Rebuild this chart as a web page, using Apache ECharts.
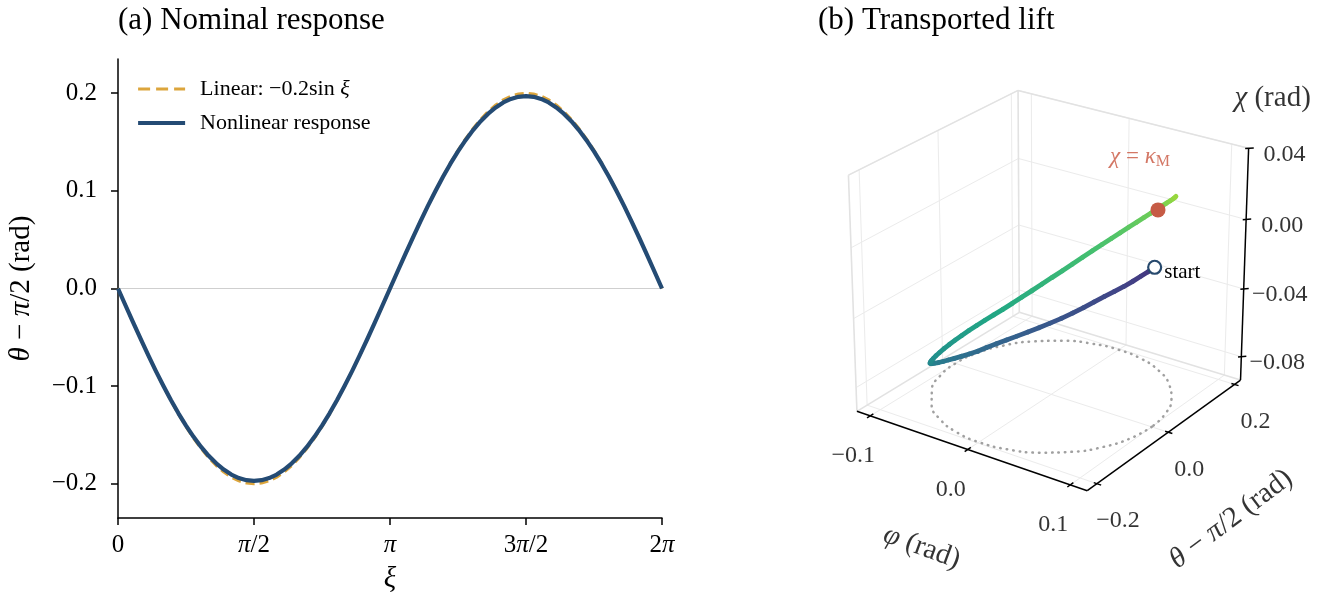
<!DOCTYPE html>
<html>
<head>
<meta charset="utf-8">
<title>Nominal response and transported lift</title>
<script src="https://cdn.jsdelivr.net/npm/echarts@6.0.0/dist/echarts.min.js"></script>
</head>
<body style="margin:0;background:#fff">
<div id="chart" style="width:1319px;height:608px"></div>
<script>
// ---- panel (a): response over one period, read every 5 deg of xi
var xiDeg = [0, 5, 10, 15, 20, 25, 30, 35, 40, 45, 50, 55, 60, 65, 70, 75, 80, 85, 90,
             95, 100, 105, 110, 115, 120, 125, 130, 135, 140, 145, 150, 155, 160, 165, 170, 175, 180,
             185, 190, 195, 200, 205, 210, 215, 220, 225, 230, 235, 240, 245, 250, 255, 260, 265, 270,
             275, 280, 285, 290, 295, 300, 305, 310, 315, 320, 325, 330, 335, 340, 345, 350, 355, 360];
var linearResp = [
  0, -0.0174, -0.0347, -0.0518, -0.0684, -0.0845, -0.1, -0.1147, -0.1286, -0.1414, -0.1532, -0.1638, -0.1732, -0.1813, -0.1879, -0.1932, -0.197, -0.1992, -0.2,
  -0.1992, -0.197, -0.1932, -0.1879, -0.1813, -0.1732, -0.1638, -0.1532, -0.1414, -0.1286, -0.1147, -0.1, -0.0845, -0.0684, -0.0518, -0.0347, -0.0174, 0,
  0.0174, 0.0347, 0.0518, 0.0684, 0.0845, 0.1, 0.1147, 0.1286, 0.1414, 0.1532, 0.1638, 0.1732, 0.1813, 0.1879, 0.1932, 0.197, 0.1992, 0.2,
  0.1992, 0.197, 0.1932, 0.1879, 0.1813, 0.1732, 0.1638, 0.1532, 0.1414, 0.1286, 0.1147, 0.1, 0.0845, 0.0684, 0.0518, 0.0347, 0.0174, 0];
var nonlinearResp = [
  0, -0.0174, -0.0347, -0.0517, -0.0683, -0.0843, -0.0996, -0.1141, -0.1278, -0.1404, -0.1519, -0.1622, -0.1713, -0.179, -0.1854, -0.1905, -0.1941, -0.1963, -0.197,
  -0.1963, -0.1941, -0.1905, -0.1854, -0.179, -0.1713, -0.1622, -0.1519, -0.1404, -0.1278, -0.1141, -0.0996, -0.0843, -0.0683, -0.0517, -0.0347, -0.0174, 0,
  0.0174, 0.0347, 0.0517, 0.0683, 0.0843, 0.0996, 0.1141, 0.1278, 0.1404, 0.1519, 0.1622, 0.1713, 0.179, 0.1854, 0.1905, 0.1941, 0.1963, 0.197,
  0.1963, 0.1941, 0.1905, 0.1854, 0.179, 0.1713, 0.1622, 0.1519, 0.1404, 0.1278, 0.1141, 0.0996, 0.0843, 0.0683, 0.0517, 0.0347, 0.0174, 0];
var xiTicks = [0, 90, 180, 270, 360];
var xiTickLabels = ['0', '{i|π}/2', '{i|π}', '3{i|π}/2', '2{i|π}'];
var respTicks = [-0.2, -0.1, 0, 0.1, 0.2];

// ---- panel (b): lifted path (phi, theta - pi/2, chi), read every 5 deg of xi up to 325 deg
var liftPhi = [
  0.1, 0.0996, 0.0985, 0.0966, 0.094, 0.0906, 0.0866, 0.0819, 0.0766, 0.0707, 0.0643, 0.0574, 0.05, 0.0423, 0.0342, 0.0259, 0.0174, 0.0087, 0,
  -0.0087, -0.0174, -0.0259, -0.0342, -0.0423, -0.05, -0.0574, -0.0643, -0.0707, -0.0766, -0.0819, -0.0866, -0.0906, -0.094, -0.0966, -0.0985, -0.0996, -0.1,
  -0.0996, -0.0985, -0.0966, -0.094, -0.0906, -0.0866, -0.0819, -0.0766, -0.0707, -0.0643, -0.0574, -0.05, -0.0423, -0.0342, -0.0259, -0.0174, -0.0087, 0,
  0.0087, 0.0174, 0.0259, 0.0342, 0.0423, 0.05, 0.0574, 0.0643, 0.0707, 0.0766, 0.0819];
var liftTheta = [
  0, -0.0172, -0.0342, -0.051, -0.0674, -0.0833, -0.0985, -0.113, -0.1266, -0.1393, -0.1509, -0.1614, -0.1706, -0.1785, -0.1851, -0.1903, -0.194, -0.1963, -0.197,
  -0.1963, -0.194, -0.1903, -0.1851, -0.1785, -0.1706, -0.1614, -0.1509, -0.1393, -0.1266, -0.113, -0.0985, -0.0833, -0.0674, -0.051, -0.0342, -0.0172, 0,
  0.0172, 0.0342, 0.051, 0.0674, 0.0833, 0.0985, 0.113, 0.1266, 0.1393, 0.1509, 0.1614, 0.1706, 0.1785, 0.1851, 0.1903, 0.194, 0.1963, 0.197,
  0.1963, 0.194, 0.1903, 0.1851, 0.1785, 0.1706, 0.1614, 0.1509, 0.1393, 0.1266, 0.113];
var liftChi = [
  -0.003, -0.0034, -0.004, -0.005, -0.0062, -0.0075, -0.009, -0.011, -0.0133, -0.0157, -0.0182, -0.0207, -0.0233, -0.026, -0.0289, -0.0319, -0.035, -0.0384, -0.042,
  -0.0452, -0.0484, -0.0516, -0.0548, -0.058, -0.0611, -0.0641, -0.067, -0.0698, -0.0724, -0.0747, -0.0766, -0.0781, -0.0792, -0.0799, -0.0802, -0.0802, -0.0799,
  -0.0793, -0.0784, -0.0772, -0.0757, -0.0739, -0.0718, -0.0692, -0.0662, -0.0629, -0.0593, -0.0554, -0.0513, -0.0469, -0.0424, -0.0378, -0.0331, -0.0284, -0.0237,
  -0.019, -0.0144, -0.0098, -0.0054, -0.0011, 0.003, 0.0068, 0.0104, 0.0138, 0.017, 0.02];
// base loop, drawn on the floor
var loopPhi = [0.1, 0.0966, 0.0866, 0.0707, 0.05, 0.0259, 0, -0.0259, -0.05, -0.0707, -0.0866, -0.0966, -0.1,
               -0.0966, -0.0866, -0.0707, -0.05, -0.0259, 0, 0.0259, 0.05, 0.0707, 0.0866, 0.0966, 0.1];
var loopTheta = [0, -0.051, -0.0985, -0.1393, -0.1706, -0.1903, -0.197, -0.1903, -0.1706, -0.1393, -0.0985, -0.051, 0,
                 0.051, 0.0985, 0.1393, 0.1706, 0.1903, 0.197, 0.1903, 0.1706, 0.1393, 0.0985, 0.051, 0];
var kappaPoint = [0.044, 0.177, -0.001];
var phiTicks = [-0.1, 0, 0.1];
var thetaTicks = [-0.2, 0, 0.2];
var chiTicks = [-0.08, -0.04, 0, 0.04];
var phiLim = [-0.114, 0.116];
var thetaLim = [-0.226, 0.219];
var chiLim = [-0.094, 0.040];

var FONT = "'Liberation Serif', 'Times New Roman', 'DejaVu Serif', serif";
var VIRIDIS = ['#440154', '#482475', '#414487', '#355f8d', '#2a788e', '#21918c',
               '#22a884', '#44bf70', '#7ad151', '#bddf26', '#fde725'];
var LINEAR_COLOR = '#dca53c', NONLINEAR_COLOR = '#244b74';

// perspective view of the 3d box, mapped onto a hidden pixel-sized cartesian grid
var AZ = -55 * Math.PI / 180, EL = 25 * Math.PI / 180, DIST = 10;
var BOX = [1.09, 1.09, 1.0];
var CX = 1051, CY = 281, K = 258;
var EV = [Math.cos(EL) * Math.cos(AZ), Math.cos(EL) * Math.sin(AZ), Math.sin(EL)];
var RV = [-Math.sin(AZ), Math.cos(AZ), 0];
var UV = [-Math.sin(EL) * Math.cos(AZ), -Math.sin(EL) * Math.sin(AZ), Math.cos(EL)];

function proj(phi, th, chi) {
  var X = ((phi - phiLim[0]) / (phiLim[1] - phiLim[0]) - 0.5) * BOX[0];
  var Y = ((th - thetaLim[0]) / (thetaLim[1] - thetaLim[0]) - 0.5) * BOX[1];
  var Z = ((chi - chiLim[0]) / (chiLim[1] - chiLim[0]) - 0.5) * BOX[2];
  var pr = X * RV[0] + Y * RV[1];
  var pu = X * UV[0] + Y * UV[1] + Z * UV[2];
  var pe = X * EV[0] + Y * EV[1] + Z * EV[2];
  var f = DIST / (DIST - pe);
  return [CX + K * f * pr, CY - K * f * pu];
}
function seg(a, b) {
  return { coords: [proj(a[0], a[1], a[2]), proj(b[0], b[1], b[2])] };
}
function shift(p, d) { return [p[0] + d[0], p[1] + d[1]]; }
function fmt(v, d) {
  return (v < 0 ? '\u2212' : '') + Math.abs(v).toFixed(d);
}
function viridis(t) {
  var s = t * (VIRIDIS.length - 1);
  var i = Math.min(Math.floor(s), VIRIDIS.length - 2), f = s - i;
  var a = VIRIDIS[i], b = VIRIDIS[i + 1], out = [];
  for (var k = 0; k < 3; k++) {
    var va = parseInt(a.substr(1 + 2 * k, 2), 16), vb = parseInt(b.substr(1 + 2 * k, 2), 16);
    out.push(Math.round(va + (vb - va) * f));
  }
  return 'rgb(' + out.join(',') + ')';
}

var P0 = phiLim[0], P1 = phiLim[1], T0 = thetaLim[0], T1 = thetaLim[1], C0 = chiLim[0], C1 = chiLim[1];

// pane edges (left, back and floor panes)
var paneEdges = [
  seg([P0, T0, C0], [P0, T0, C1]), seg([P0, T1, C0], [P0, T1, C1]),
  seg([P0, T0, C1], [P0, T1, C1]), seg([P0, T0, C0], [P0, T1, C0]),
  seg([P0, T1, C1], [P1, T1, C1]), seg([P0, T1, C0], [P1, T1, C0])
];
var gridSegs = [];
thetaTicks.forEach(function (t) {
  gridSegs.push(seg([P0, t, C0], [P0, t, C1]));
  gridSegs.push(seg([P0, t, C0], [P1, t, C0]));
});
phiTicks.forEach(function (p) {
  gridSegs.push(seg([p, T1, C0], [p, T1, C1]));
  gridSegs.push(seg([p, T0, C0], [p, T1, C0]));
});
chiTicks.forEach(function (c) {
  gridSegs.push(seg([P0, T0, c], [P0, T1, c]));
  gridSegs.push(seg([P0, T1, c], [P1, T1, c]));
});

var axisSegs = [
  seg([P0, T0, C0], [P1, T0, C0]),
  seg([P1, T0, C0], [P1, T1, C0]),
  seg([P1, T1, C0], [P1, T1, C1])
];
phiTicks.forEach(function (p) { axisSegs.push(seg([p, T0 + 0.008, C0], [p, T0 - 0.008, C0])); });
thetaTicks.forEach(function (t) { axisSegs.push(seg([P1 - 0.003, t, C0], [P1 + 0.004, t, C0])); });
chiTicks.forEach(function (c) { axisSegs.push(seg([P1 - 0.002, T1 - 0.004, c], [P1 + 0.003, T1 + 0.006, c])); });

var tickLabels = [];
phiTicks.forEach(function (p) {
  tickLabels.push({ value: shift(proj(p, T0, C0), [-17, 40]), name: fmt(p, 1) });
});
thetaTicks.forEach(function (t) {
  tickLabels.push({ value: shift(proj(P1, t, C0), [21, 37]), name: fmt(t, 1) });
});
chiTicks.forEach(function (c) {
  tickLabels.push({ value: shift(proj(P1, T1, c), [36, 6]), name: fmt(c, 2) });
});

var axisNames = [
  { value: shift(proj(0, T0, C0), [-46, 98]), name: '{i|φ} (rad)', label: { rotate: -20 } },
  { value: shift(proj(P1, 0, C0), [63, 87]), name: '{i|θ} \u2212 {i|π}/2 (rad)', label: { rotate: 37 } },
  { value: shift(proj(P1, T1, C1), [24, -50]), name: '{i|χ} (rad)' }
];

var loopPts = loopPhi.map(function (p, i) { return proj(p, loopTheta[i], C0); });
var liftPts = liftPhi.map(function (p, i) { return proj(p, liftTheta[i], liftChi[i]); });
var liftSegs = [];
for (var i = 0; i < liftPts.length - 1; i++) {
  liftSegs.push({
    coords: [liftPts[i], liftPts[i + 1]],
    lineStyle: { color: viridis(0.15 + 0.7 * (i + 0.5) / (liftPts.length - 1)) }
  });
}
var kappaPx = proj(kappaPoint[0], kappaPoint[1], kappaPoint[2]);

var italic = function (size, color) {
  return { i: { fontStyle: 'italic', fontFamily: FONT, fontSize: size, color: color || '#000' } };
};

var chart = echarts.init(document.getElementById('chart'));
var option = {
  animation: false,
  backgroundColor: '#fff',
  textStyle: { fontFamily: FONT },
  title: [
    { text: '(a) Nominal response', left: 118, top: 5, padding: 0,
      textStyle: { fontFamily: FONT, fontSize: 31, fontWeight: 'normal', color: '#000' } },
    { text: '(b) Transported lift', left: 818, top: 5, padding: 0,
      textStyle: { fontFamily: FONT, fontSize: 31, fontWeight: 'normal', color: '#000' } }
  ],
  legend: {
    data: [
      { name: 'Linear: \u22120.2sin ξ', lineStyle: { color: LINEAR_COLOR, width: 3, type: [12, 6] } },
      { name: 'Nonlinear response', lineStyle: { color: NONLINEAR_COLOR, width: 4.2 } }
    ],
    orient: 'vertical', left: 136, top: 78, padding: 0,
    itemWidth: 47, itemHeight: 20, itemGap: 12,
    itemStyle: { opacity: 0 },
    formatter: function (name) { return name.replace('ξ', '{i|ξ}'); },
    textStyle: { fontFamily: FONT, fontSize: 22, color: '#000', padding: [0, 0, 0, 10], rich: italic(22) }
  },
  grid: [
    { left: 118, top: 59, width: 544, height: 459, outerBoundsMode: 'none' },
    { left: 0, top: 0, width: 1319, height: 608, outerBoundsMode: 'none' }
  ],
  xAxis: [
    {
      type: 'value', gridIndex: 0, min: 0, max: 360,
      axisLine: { onZero: false, lineStyle: { color: '#000', width: 1.5 } },
      axisTick: { customValues: xiTicks, length: 7, lineStyle: { color: '#000', width: 1.5 } },
      axisLabel: {
        customValues: xiTicks, margin: 15, fontSize: 25, color: '#000', fontFamily: FONT, rich: italic(25),
        formatter: function (v) { return xiTickLabels[xiTicks.indexOf(v)]; }
      },
      splitLine: { show: false },
      name: 'ξ', nameLocation: 'middle', nameGap: 47,
      nameTextStyle: { fontFamily: FONT, fontSize: 29, fontStyle: 'italic', color: '#000' }
    },
    { type: 'value', gridIndex: 1, min: 0, max: 1319, show: false }
  ],
  yAxis: [
    {
      type: 'value', gridIndex: 0, min: -0.235, max: 0.235,
      axisLine: { lineStyle: { color: '#000', width: 1.5 } },
      axisTick: { customValues: respTicks, length: 7, lineStyle: { color: '#000', width: 1.5 } },
      axisLabel: {
        customValues: respTicks, margin: 21, fontSize: 25, color: '#000', fontFamily: FONT,
        formatter: function (v) { return fmt(v, 1); }
      },
      splitLine: { show: false },
      name: '{i|θ} \u2212 {i|π}/2 (rad)', nameLocation: 'middle', nameRotate: 90, nameGap: 82,
      nameTextStyle: { fontFamily: FONT, fontSize: 29, color: '#000', rich: italic(29) }
    },
    { type: 'value', gridIndex: 1, min: 0, max: 608, inverse: true, show: false }
  ],
  series: [
    {
      type: 'line', data: [[0, 0], [360, 0]], symbol: 'none', silent: true, z: 1,
      lineStyle: { color: '#cfcfcf', width: 1 }
    },
    {
      name: 'Linear: \u22120.2sin ξ', type: 'line', symbol: 'none', z: 2,
      data: xiDeg.map(function (x, i) { return [x, linearResp[i]]; }),
      itemStyle: { color: LINEAR_COLOR },
      lineStyle: { color: LINEAR_COLOR, width: 3, type: [9, 5] }
    },
    {
      name: 'Nonlinear response', type: 'line', symbol: 'none', z: 3,
      data: xiDeg.map(function (x, i) { return [x, nonlinearResp[i]]; }),
      itemStyle: { color: NONLINEAR_COLOR },
      lineStyle: { color: NONLINEAR_COLOR, width: 4.2, join: 'round' }
    },
    {
      type: 'lines', coordinateSystem: 'cartesian2d', xAxisIndex: 1, yAxisIndex: 1, silent: true, z: 1,
      data: gridSegs, lineStyle: { color: '#ebebeb', width: 1, opacity: 1 }
    },
    {
      type: 'lines', coordinateSystem: 'cartesian2d', xAxisIndex: 1, yAxisIndex: 1, silent: true, z: 1,
      data: paneEdges, lineStyle: { color: '#e2e2e2', width: 1.6, opacity: 1 }
    },
    {
      type: 'line', xAxisIndex: 1, yAxisIndex: 1, data: loopPts, smooth: true, symbol: 'none', silent: true, z: 2,
      lineStyle: { color: '#a0a0a0', width: 2.5, type: [0.5, 6], cap: 'round' }
    },
    {
      type: 'lines', coordinateSystem: 'cartesian2d', xAxisIndex: 1, yAxisIndex: 1, silent: true, z: 3,
      data: axisSegs, lineStyle: { color: '#000', width: 1.5, opacity: 1 }
    },
    {
      type: 'lines', coordinateSystem: 'cartesian2d', xAxisIndex: 1, yAxisIndex: 1, silent: true, z: 4,
      data: liftSegs, lineStyle: { width: 4.8, cap: 'round', opacity: 1 }
    },
    {
      type: 'scatter', xAxisIndex: 1, yAxisIndex: 1, silent: true, z: 5, symbolSize: 13,
      data: [liftPts[0]],
      itemStyle: { color: '#fff', borderColor: '#27496d', borderWidth: 2.2, opacity: 1 },
      label: { show: true, formatter: 'start', position: 'right', distance: 2, offset: [0, 5],
               fontFamily: FONT, fontSize: 21, color: '#000' }
    },
    {
      type: 'scatter', xAxisIndex: 1, yAxisIndex: 1, silent: true, z: 5, symbolSize: 15,
      data: [kappaPx],
      itemStyle: { color: '#c65b45', opacity: 1 }
    },
    {
      type: 'scatter', xAxisIndex: 1, yAxisIndex: 1, silent: true, z: 6, symbolSize: 0,
      data: [{ value: shift(kappaPx, [-18, -53]), name: '{i|χ} = {i|κ}{s|M}' }],
      label: {
        show: true, position: 'inside', formatter: '{b}', align: 'center', verticalAlign: 'middle',
        fontFamily: FONT, fontSize: 23, color: '#c8553f',
        rich: {
          i: { fontStyle: 'italic', fontFamily: FONT, fontSize: 23, color: '#c8553f' },
          s: { fontFamily: FONT, fontSize: 16, color: '#c8553f', verticalAlign: 'bottom', padding: [9, 0, 0, 0] }
        }
      }
    },
    {
      type: 'scatter', xAxisIndex: 1, yAxisIndex: 1, silent: true, z: 6, symbolSize: 0,
      data: tickLabels,
      label: { show: true, position: 'inside', formatter: '{b}', align: 'center', verticalAlign: 'middle',
               fontFamily: FONT, fontSize: 24, color: '#000' }
    },
    {
      type: 'scatter', xAxisIndex: 1, yAxisIndex: 1, silent: true, z: 6, symbolSize: 0,
      data: axisNames,
      label: { show: true, position: 'inside', formatter: '{b}', align: 'center', verticalAlign: 'middle',
               fontFamily: FONT, fontSize: 29, color: '#000', rich: italic(29) }
    }
  ]
};
chart.setOption(option);
</script>
</body>
</html>
